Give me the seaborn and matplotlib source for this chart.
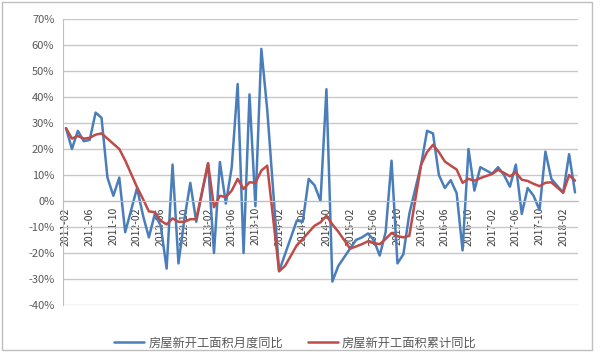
import matplotlib
matplotlib.use("Agg")
import matplotlib.pyplot as plt
from matplotlib.patches import Rectangle
import seaborn as sns
import pandas as pd

# ---- data (January is not published; Jan-Feb reported together) ----
years = [2011, 2012, 2013, 2014, 2015, 2016, 2017]
months = [f"{y}-{m:02d}" for y in years for m in range(2, 13)] + ["2018-02", "2018-03", "2018-04"]

monthly_yoy = [
    28, 20, 27, 23, 23.5, 34, 32, 9, 2, 9, -12,            # 2011
    5, -5.5, -14, -5, -9.5, -26, 14, -24, -7, 7, -8,       # 2012
    14.5, -20, 15, -1, 13, 45, -20, 41, -2, 58.5, 35,      # 2013
    -27, -20.5, -14, -7.5, -8, 8.5, 6, 0, 43, -31, -25,    # 2014
    -18.3, -15, -14, -12.5, -15, -21, -12, 15.5, -24, -20.5, -5,  # 2015
    14, 27, 26, 10, 5, 8, 3, -19, 20, 4, 13,               # 2016
    10.5, 13, 10, 5.5, 14, -5, 5, 2, -3.5, 19, 8.5,        # 2017
    3.2, 18, 3.3,                                          # 2018
]
cumulative_yoy = [
    28, 24, 25, 24, 24.3, 25.5, 26, 24, 22, 20, 15.6,
    5.3, 0.8, -4, -4.3, -7.6, -9, -6.7, -8, -8, -7, -7,
    14.5, -2.4, 2, 1.5, 4, 8.5, 4.6, 7.2, 7, 11.7, 13.6,
    -27, -25, -21, -17, -14.6, -12, -9.5, -8.2, -5.7, -9, -11.8,
    -18.3, -17.5, -16.6, -15.5, -16.2, -16.6, -14.6, -12.3, -13.5, -14, -13.4,
    14, 18.8, 21.6, 18.8, 15.2, 13.6, 12.1, 7, 8.5, 7.8, 8.8,
    10.4, 12, 10.8, 9.5, 11, 8.2, 7.7, 6.6, 5.7, 7, 7.2,
    3.2, 10, 7.8,
]
series_names = ["房屋新开工面积月度同比", "房屋新开工面积累计同比"]
tick_labels = [f"{y}-{m:02d}" for y in range(2011, 2019) for m in (2, 6, 10)][:22]

# ---- build table ----
dates = pd.to_datetime(months, format="%Y-%m")
pos = (dates.year - 2011) * 12 + dates.month - 2
df = pd.concat([
    pd.DataFrame({"pos": pos, "value": monthly_yoy, "series": series_names[0]}),
    pd.DataFrame({"pos": pos, "value": cumulative_yoy, "series": series_names[1]}),
])
tick_dates = pd.to_datetime(tick_labels, format="%Y-%m")
tick_pos = list((tick_dates.year - 2011) * 12 + tick_dates.month - 2)

sns.set_style("white")
plt.rcParams["font.family"] = ["Noto Sans CJK SC", "DejaVu Sans"]

fig = plt.figure(figsize=(6, 3.56), dpi=100)
ax = fig.add_axes([0.1045, 0.1433, 0.8588, 0.8033])

sns.lineplot(data=df, x="pos", y="value", hue="series", hue_order=series_names,
             palette=["#4A7EBB", "#BE4B48"], linewidth=1.8, ax=ax, sort=False)

for s in ("top", "right"):
    ax.spines[s].set_visible(False)
ax.spines["left"].set_color("#BFBFBF")
ax.spines["bottom"].set_color("#BFBFBF")
ax.spines["bottom"].set_position(("data", 0))

ax.set_xlim(-0.56, 86.5)
ax.set_ylim(-40, 70)
ax.set_yticks(range(-40, 71, 10))
ax.set_yticklabels([f"{v}%" for v in range(-40, 71, 10)])
ax.set_xticks(tick_pos)
ax.set_xticklabels(tick_labels)
ax.set_xlabel("")
ax.set_ylabel("")

ax.grid(axis="y", color="#C8C8C8", linewidth=1.0)
ax.grid(axis="x", visible=False)
ax.set_axisbelow(True)

ax.tick_params(axis="x", direction="out", length=2.5, width=0.8, color="#A0A0A0",
               labelsize=7.5, labelcolor="#404040", pad=2, labelrotation=90)
ax.tick_params(axis="y", length=0, labelsize=8, labelcolor="#595959", pad=6)

sns.move_legend(ax, "center", bbox_to_anchor=(0.4925, 0.036), bbox_transform=fig.transFigure,
                ncol=2, frameon=False, title=None, fontsize=8.8,
                handlelength=2.45, handletextpad=0.33, columnspacing=2.05)
for t in ax.get_legend().get_texts():
    t.set_color("#595959")

fig.patches.append(Rectangle((0.003, 0.017), 0.983, 0.978, transform=fig.transFigure,
                             fill=False, edgecolor="#BFBFBF", linewidth=1.0))

fig.savefig("out.png", dpi=100)
